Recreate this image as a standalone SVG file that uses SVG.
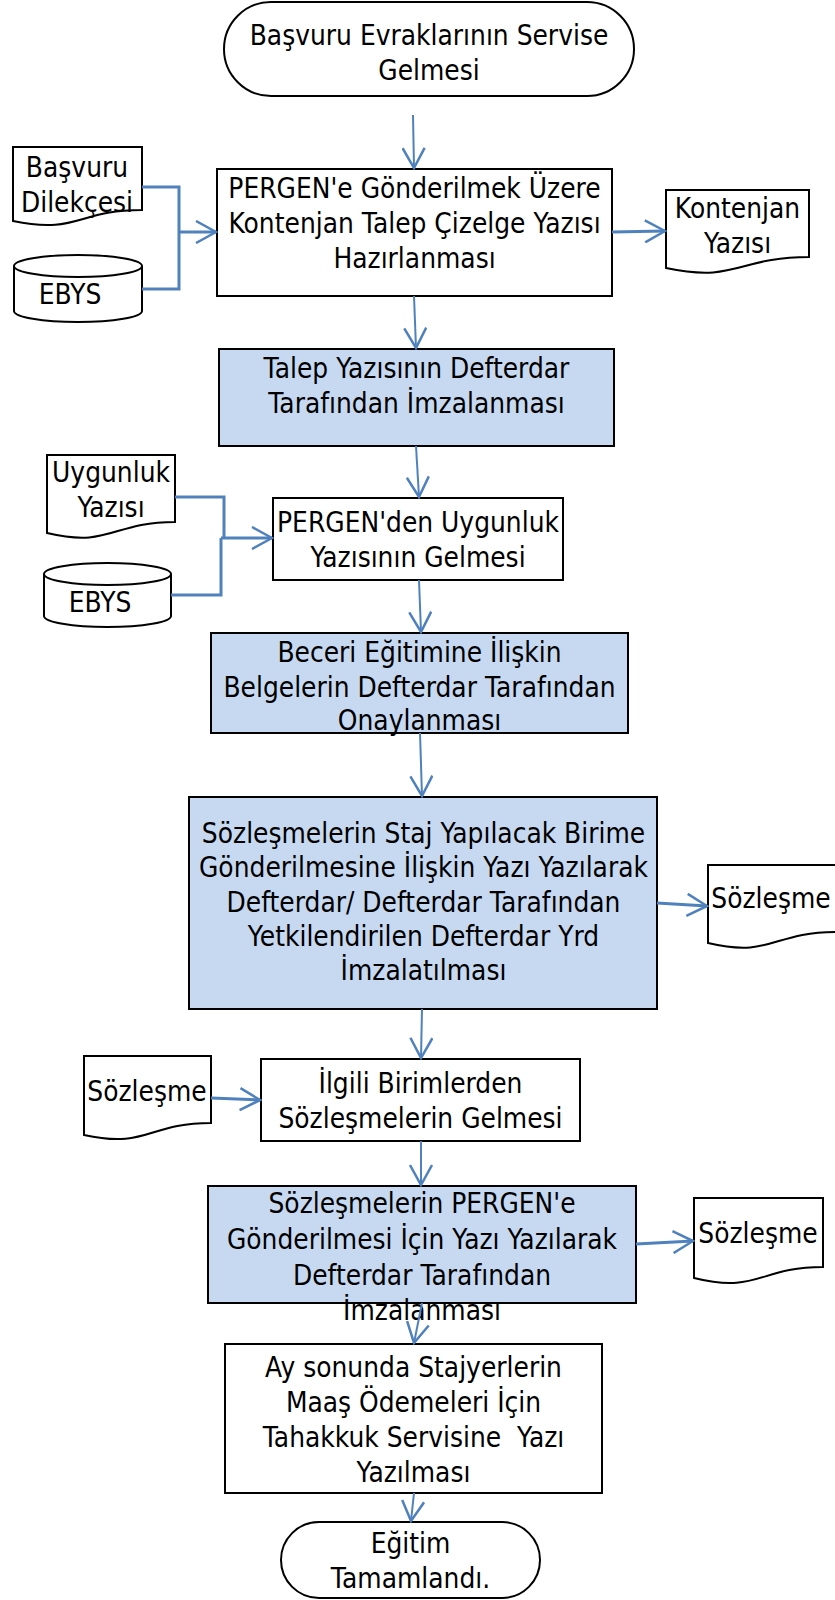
<svg xmlns="http://www.w3.org/2000/svg" width="835" height="1600" viewBox="0 0 835 1600">
<style>
  .box { fill: #ffffff; stroke: #000000; stroke-width: 2; }
  .blue { fill: #c6d9f1; stroke: #000000; stroke-width: 2; }
  .shape { fill: #ffffff; stroke: #000000; stroke-width: 2; }
  .t { font-family: "DejaVu Sans", "Noto Sans", sans-serif; font-size: 25px; fill: #000000; text-anchor: middle; }
  .c { fill: none; stroke: #4f81bd; stroke-width: 2; }
  .cw { fill: none; stroke: #4f81bd; stroke-width: 3; }
</style>
<defs>
  <marker id="ah" markerUnits="userSpaceOnUse" markerWidth="24" markerHeight="24" viewBox="0 0 24 24" refX="22" refY="12" orient="auto">
    <path d="M2,1 L22,12 L2,23" fill="none" stroke="#4f81bd" stroke-width="2.5"/>
  </marker>
</defs>
<rect width="835" height="1600" fill="#ffffff"/>

<g id="n_start">
  <rect class="shape" x="224" y="2" width="410" height="94" rx="47" ry="47"/>
  <text class="t" transform="translate(429,45) scale(1,1.15)">Başvuru Evraklarının Servise</text>
  <text class="t" transform="translate(429,80) scale(1,1.15)">Gelmesi</text>
</g>

<g id="n_basvuru_dilekcesi">
  <path class="shape" d="M13,147 H142 V210 C77.5,210 77.5,234.5 13,221 Z"/>
  <text class="t" transform="translate(77,177) scale(1,1.15)">Başvuru</text>
  <text class="t" transform="translate(77,212) scale(1,1.15)">Dilekçesi</text>
</g>

<g id="n_ebys1">
  <path class="shape" d="M14,266 A64,11 0 0 1 142,266 V311 A64,11 0 0 1 14,311 Z"/>
  <path class="shape" d="M14,266 A64,11 0 0 0 142,266" fill="none"/>
  <text class="t" transform="translate(70,304) scale(1,1.15)">EBYS</text>
</g>

<g id="n_talep_hazirlama">
  <rect class="box" x="217" y="169" width="395" height="127"/>
  <text class="t" transform="translate(414.5,198) scale(1,1.15)">PERGEN'e Gönderilmek Üzere</text>
  <text class="t" transform="translate(414.5,233) scale(1,1.15)">Kontenjan Talep Çizelge Yazısı</text>
  <text class="t" transform="translate(414.5,268) scale(1,1.15)">Hazırlanması</text>
</g>

<g id="n_kontenjan_yazisi">
  <path class="shape" d="M666,190 H809 V257 C737.5,257 737.5,283 666,268 Z"/>
  <text class="t" transform="translate(737.5,218) scale(1,1.15)">Kontenjan</text>
  <text class="t" transform="translate(737.5,253) scale(1,1.15)">Yazısı</text>
</g>

<g id="n_talep_imza">
  <rect class="blue" x="219" y="349" width="395" height="97"/>
  <text class="t" transform="translate(416.5,378) scale(1,1.15)">Talep Yazısının Defterdar</text>
  <text class="t" transform="translate(416.5,413) scale(1,1.15)">Tarafından İmzalanması</text>
</g>

<g id="n_uygunluk_yazisi">
  <path class="shape" d="M47,455 H175 V522 C111,522 111,548 47,533 Z"/>
  <text class="t" transform="translate(111,482) scale(1,1.15)">Uygunluk</text>
  <text class="t" transform="translate(111,517) scale(1,1.15)">Yazısı</text>
</g>

<g id="n_ebys2">
  <path class="shape" d="M44,574 A63.5,11 0 0 1 171,574 V616 A63.5,11 0 0 1 44,616 Z"/>
  <path class="shape" d="M44,574 A63.5,11 0 0 0 171,574" fill="none"/>
  <text class="t" transform="translate(100,612) scale(1,1.15)">EBYS</text>
</g>

<g id="n_uygunluk_gelmesi">
  <rect class="box" x="273" y="498" width="290" height="82"/>
  <text class="t" transform="translate(418,532) scale(1,1.15)">PERGEN'den Uygunluk</text>
  <text class="t" transform="translate(418,567) scale(1,1.15)">Yazısının Gelmesi</text>
</g>

<g id="n_beceri">
  <rect class="blue" x="211" y="633" width="417" height="100"/>
  <text class="t" transform="translate(419.5,662) scale(1,1.15)">Beceri Eğitimine İlişkin</text>
  <text class="t" transform="translate(419.5,697) scale(1,1.15)">Belgelerin Defterdar Tarafından</text>
  <text class="t" transform="translate(419.5,730) scale(1,1.15)">Onaylanması</text>
</g>

<g id="n_staj_yazi">
  <rect class="blue" x="189" y="797" width="468" height="212"/>
  <text class="t" transform="translate(423.5,843) scale(1,1.15)">Sözleşmelerin Staj Yapılacak Birime</text>
  <text class="t" transform="translate(423.5,877) scale(1,1.15)">Gönderilmesine İlişkin Yazı Yazılarak</text>
  <text class="t" transform="translate(423.5,912) scale(1,1.15)">Defterdar/ Defterdar Tarafından</text>
  <text class="t" transform="translate(423.5,946) scale(1,1.15)">Yetkilendirilen Defterdar Yrd</text>
  <text class="t" transform="translate(423.5,980) scale(1,1.15)">İmzalatılması</text>
</g>

<g id="n_sozlesme1">
  <path class="shape" d="M708,865 H836 V932 C772,932 772,958 708,943 Z"/>
  <text class="t" transform="translate(771,908) scale(1,1.15)">Sözleşme</text>
</g>

<g id="n_sozlesme2">
  <path class="shape" d="M84,1056 H211 V1123 C147.5,1123 147.5,1149 84,1135 Z"/>
  <text class="t" transform="translate(147,1101) scale(1,1.15)">Sözleşme</text>
</g>

<g id="n_ilgili">
  <rect class="box" x="261" y="1059" width="319" height="82"/>
  <text class="t" transform="translate(420.5,1093) scale(1,1.15)">İlgili Birimlerden</text>
  <text class="t" transform="translate(420.5,1128) scale(1,1.15)">Sözleşmelerin Gelmesi</text>
</g>

<g id="n_pergen_gonderim">
  <rect class="blue" x="208" y="1186" width="428" height="117"/>
  <text class="t" transform="translate(422,1213) scale(1,1.15)">Sözleşmelerin PERGEN'e</text>
  <text class="t" transform="translate(422,1249) scale(1,1.15)">Gönderilmesi İçin Yazı Yazılarak</text>
  <text class="t" transform="translate(422,1285) scale(1,1.15)">Defterdar Tarafından</text>
  <text class="t" transform="translate(422,1320) scale(1,1.15)">İmzalanması</text>
</g>

<g id="n_sozlesme3">
  <path class="shape" d="M694,1198 H823 V1267 C758.5,1267 758.5,1294 694,1278 Z"/>
  <text class="t" transform="translate(758,1243) scale(1,1.15)">Sözleşme</text>
</g>

<g id="n_maas">
  <rect class="box" x="225" y="1344" width="377" height="149"/>
  <text class="t" transform="translate(413.5,1377) scale(1,1.15)">Ay sonunda Stajyerlerin</text>
  <text class="t" transform="translate(413.5,1412) scale(1,1.15)">Maaş Ödemeleri İçin</text>
  <text class="t" transform="translate(413.5,1447) scale(1,1.15)" xml:space="preserve">Tahakkuk Servisine  Yazı</text>
  <text class="t" transform="translate(413.5,1482) scale(1,1.15)">Yazılması</text>
</g>

<g id="n_end">
  <rect class="shape" x="281" y="1522" width="259" height="76" rx="38" ry="38"/>
  <text class="t" transform="translate(410.5,1553) scale(1,1.15)">Eğitim</text>
  <text class="t" transform="translate(410.5,1588) scale(1,1.15)">Tamamlandı.</text>
</g>

<g id="connectors">
  <path class="c" d="M413,115 L414,168" marker-end="url(#ah)"/>
  <path class="cw" d="M142,187 H179 V289 H142"/>
  <path class="cw" d="M179,232 H216" marker-end="url(#ah)"/>
  <path class="cw" d="M612,232 L665,231" marker-end="url(#ah)"/>
  <path class="c" d="M414,296 L416,348" marker-end="url(#ah)"/>
  <path class="c" d="M416,446 L419,497" marker-end="url(#ah)"/>
  <path class="cw" d="M175,497 H224 V538"/>
  <path class="cw" d="M171,595 H221 V538"/>
  <path class="cw" d="M221,538 H272" marker-end="url(#ah)"/>
  <path class="c" d="M419,580 L421,632" marker-end="url(#ah)"/>
  <path class="c" d="M420,733 L422,796" marker-end="url(#ah)"/>
  <path class="cw" d="M657,903 L707,906" marker-end="url(#ah)"/>
  <path class="c" d="M422,1009 L421,1058" marker-end="url(#ah)"/>
  <path class="cw" d="M211,1098 L260,1100" marker-end="url(#ah)"/>
  <path class="c" d="M421,1141 L421,1185" marker-end="url(#ah)"/>
  <path class="cw" d="M636,1244 L693,1241" marker-end="url(#ah)"/>
  <path class="c" d="M422,1303 L414,1343" marker-end="url(#ah)"/>
  <path class="c" d="M414,1493 L411,1521" marker-end="url(#ah)"/>
</g>
</svg>
